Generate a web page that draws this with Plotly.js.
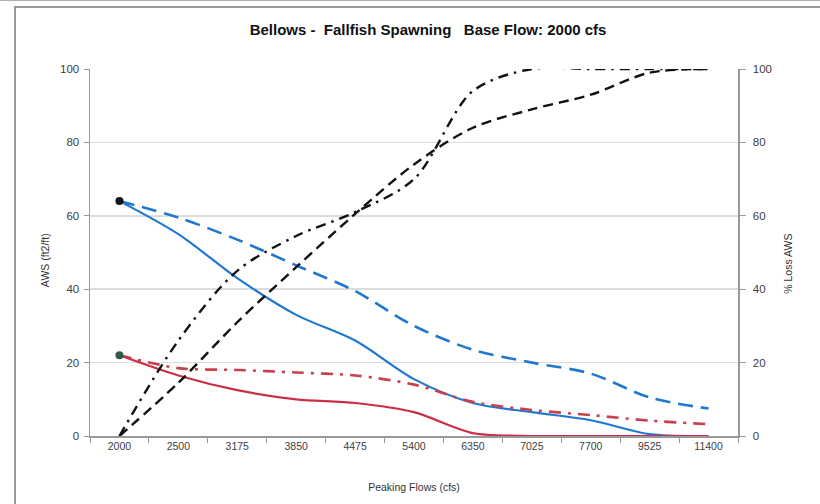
<!DOCTYPE html>
<html>
<head>
<meta charset="utf-8">
<script src="https://cdn.plot.ly/plotly-3.0.1.min.js"></script>
<style>
  html, body { margin: 0; padding: 0; background: #fff; }
  #wrap { position: relative; width: 820px; height: 504px; overflow: hidden; }
  #chart { position: absolute; left: 0; top: 0; width: 820px; height: 504px; }
  #frame { position: absolute; left: 14px; top: 6px; width: 900px; height: 600px;
           border-left: 2px solid #9a9a9a; border-top: 2px solid #9a9a9a; pointer-events: none; }
  #topline { position: absolute; left: 0; top: 0; width: 820px; height: 1px; background: #b0b0b0; }
</style>
</head>
<body>
<div id="wrap">
  <div id="chart"></div>
  <div id="frame"></div>
  <div id="topline"></div>
</div>
<script>
// Categories (Peaking flows, cfs)
const categories = ["2000", "2500", "3175", "3850", "4475", "5400", "6350", "7025", "7700", "9525", "11400"];

// AWS (ft2/ft) - left axis
const awsBlueSolid  = [64, 55, 43, 33, 26, 15.5, 9, 6.5, 4.3, 0.5, 0];
const awsBlueDashed = [64, 59.5, 53.5, 46.5, 39.5, 30, 23.5, 20, 17, 10.5, 7.5];
const awsRedSolid   = [22, 16.5, 12.5, 10, 9, 6.5, 0.8, 0, 0, 0, 0];
const awsRedDashDot = [22, 18.5, 18, 17.3, 16.5, 14, 9.3, 7.1, 5.7, 4.2, 3.2];

// % Loss AWS - right axis
const lossDashed  = [0, 14.5, 31, 46, 60.5, 74, 84, 89, 93, 99, 100];
const lossDashDot = [0, 26, 45, 54.5, 61, 70, 94, 100, 100, 100, 100];

// Tick labels
const yTicks = [0, 20, 40, 60, 80, 100];

const blue = "#1f78cf";
const red = "#cc2e48";
const red2 = "#c8404e";
const FONT = "Liberation Sans, Arial, sans-serif";

const traces = [
  {x: categories, y: awsBlueDashed, type: "scatter", mode: "lines",
   line: {color: blue, width: 2.6, dash: "15px,8px", shape: "spline", smoothing: 0.9}},
  {x: categories, y: awsBlueSolid, type: "scatter", mode: "lines",
   line: {color: blue, width: 2.2, shape: "spline", smoothing: 0.9}},
  {x: categories, y: awsRedDashDot, type: "scatter", mode: "lines",
   line: {color: red2, width: 2.6, dash: "12px,7px,3px,7px", shape: "spline", smoothing: 0.9}},
  {x: categories, y: awsRedSolid, type: "scatter", mode: "lines",
   line: {color: red, width: 2.2, shape: "spline", smoothing: 0.8}},
  {x: categories, y: lossDashed, type: "scatter", mode: "lines", yaxis: "y2",
   line: {color: "#111", width: 2.4, dash: "10px,6px", shape: "spline", smoothing: 0.9}},
  {x: categories, y: lossDashDot, type: "scatter", mode: "lines", yaxis: "y2",
   line: {color: "#111", width: 2.4, dash: "10px,6px,2.5px,6px", shape: "spline", smoothing: 0.9}},
  {x: [categories[0]], y: [awsBlueSolid[0]], type: "scatter", mode: "markers",
   marker: {color: "#111", size: 8}},
  {x: [categories[0]], y: [awsRedSolid[0]], type: "scatter", mode: "markers",
   marker: {color: "#2d5a48", size: 8}}
];

const xTickFont = {family: FONT, size: 10.5, color: "#404040"};
const yTickFont = {family: FONT, size: 11.5, color: "#404040"};
const axTitleFont = {family: FONT, size: 10.5, color: "#333"};

const layout = {
  width: 820, height: 504,
  paper_bgcolor: "#fff", plot_bgcolor: "#fff",
  showlegend: false,
  margin: {l: 90, r: 82, t: 69, b: 68},
  title: {text: "Bellows -\u00a0\u00a0Fallfish Spawning\u00a0\u00a0 Base Flow: 2000 cfs",
          font: {family: FONT, size: 15, color: "#111", weight: "bold"},
          x: 0.522, xanchor: "center", y: 0.94, yanchor: "middle"},
  xaxis: {type: "category", range: [-0.5, 10.5], tickson: "boundaries", ticks: "outside", ticklen: 5, tickcolor: "#999",
          showline: true, linecolor: "#999", linewidth: 1.5, showgrid: false, zeroline: false,
          tickfont: xTickFont,
          title: {text: "Peaking Flows (cfs)", font: axTitleFont, standoff: 32}},
  yaxis: {range: [0, 100], tickvals: yTicks, ticks: "outside", ticklen: 5, tickcolor: "#999",
          showline: true, linecolor: "#999", linewidth: 1.5,
          showgrid: true, gridcolor: "#dcdcdc", gridwidth: 1.5, zeroline: false,
          tickfont: yTickFont, ticklabelstandoff: 2},
  yaxis2: {range: [0, 100], tickvals: yTicks, overlaying: "y", side: "right", ticks: "outside", ticklen: 6, tickcolor: "#999",
           showline: true, linecolor: "#999", linewidth: 1.5, showgrid: false, zeroline: false,
           tickfont: yTickFont, ticklabelstandoff: 5},
  annotations: [
    {text: "AWS (ft2/ft)", xref: "paper", yref: "paper", x: -0.07, y: 0.478, xanchor: "center", yanchor: "middle",
     textangle: -90, showarrow: false, font: axTitleFont},
    {text: "% Loss AWS", xref: "paper", yref: "paper", x: 1.078, y: 0.468, xanchor: "center", yanchor: "middle",
     textangle: -90, showarrow: false, font: axTitleFont}
  ]
};

Plotly.newPlot("chart", traces, layout, {displayModeBar: false, staticPlot: true});
</script>
</body>
</html>
